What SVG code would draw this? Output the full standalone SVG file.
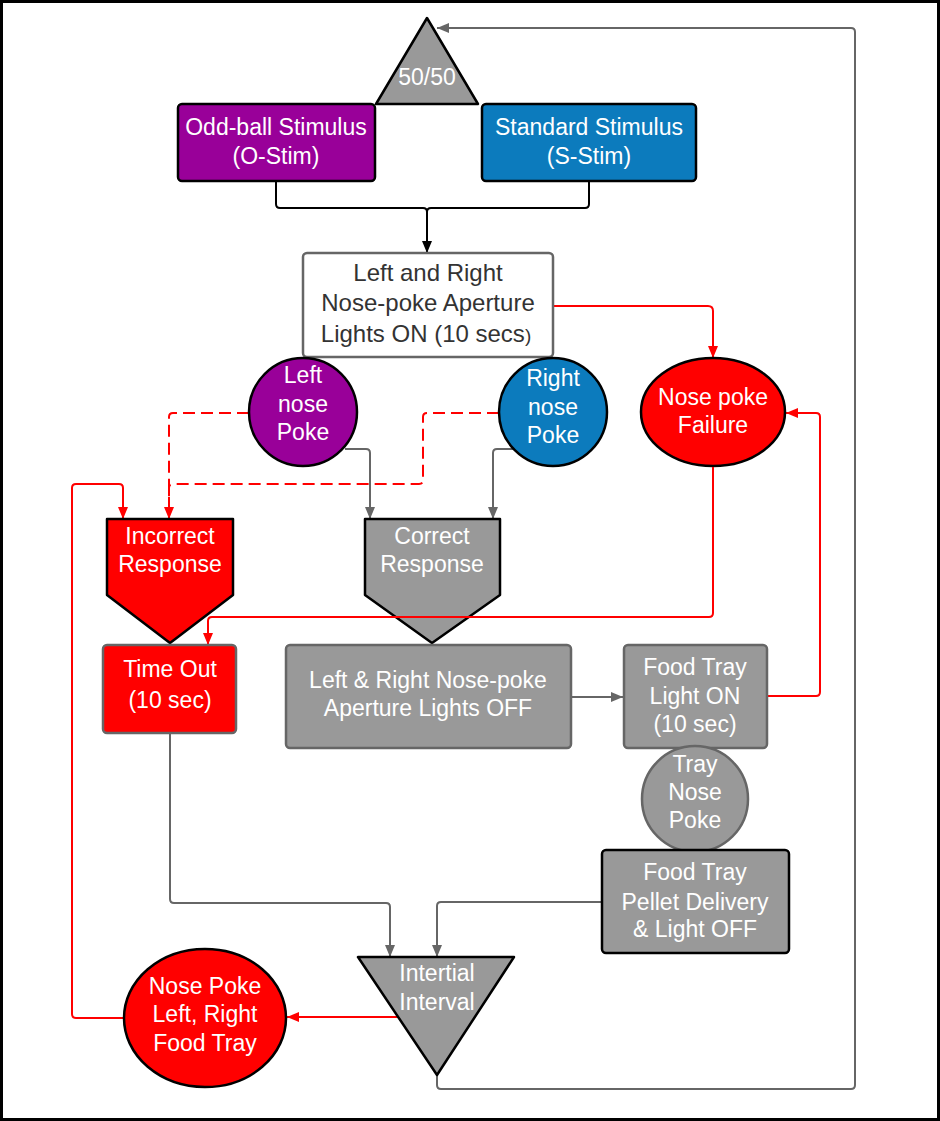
<svg xmlns="http://www.w3.org/2000/svg" width="940" height="1121" viewBox="0 0 940 1121">
<defs>
<style>
text{font-family:"Liberation Sans",Arial,sans-serif;font-size:23px;text-anchor:middle;fill:#ffffff}
.dk{fill:#333333;font-size:24px}
.c{fill:none;stroke-width:2}
.g{stroke:#666666}
.r{stroke:#ff0000}
.k{stroke:#000000}
.purple{fill:#990099;stroke:#000;stroke-width:2.5}
.blue{fill:#0c7bbd;stroke:#000;stroke-width:2.5}
.red{fill:#ff0000;stroke:#000;stroke-width:2.5}
.grayk{fill:#999999;stroke:#000;stroke-width:2.5}
.grayg{fill:#999999;stroke:#666666;stroke-width:2.5}
</style>
<marker id="ag" markerUnits="userSpaceOnUse" markerWidth="12" markerHeight="10" refX="12" refY="5" orient="auto"><path d="M0,0 L12,5 L0,10 z" fill="#666666"/></marker>
<marker id="ar" markerUnits="userSpaceOnUse" markerWidth="12" markerHeight="10" refX="12" refY="5" orient="auto"><path d="M0,0 L12,5 L0,10 z" fill="#ff0000"/></marker>
<marker id="ak" markerUnits="userSpaceOnUse" markerWidth="12" markerHeight="10" refX="12" refY="5" orient="auto"><path d="M0,0 L12,5 L0,10 z" fill="#000000"/></marker>
</defs>
<rect x="0" y="0" width="940" height="1121" fill="#ffffff"/>
<rect x="1.5" y="1.5" width="937" height="1118" fill="none" stroke="#000" stroke-width="3"/>

<g id="connectors">
<path class="c k" d="M276,181 V204 Q276,208 280,208 H423 Q427,208 427,212 V253" marker-end="url(#ak)"/>
<path class="c k" d="M589,181 V204 Q589,208 585,208 H431 Q427,208 427,212"/>
<path class="c r" d="M553,306 H708 Q713,306 713,311 V358" marker-end="url(#ar)"/>
<path class="c r" stroke-dasharray="12,6" d="M249,413 H173 Q169,413 169,417 V519" marker-end="url(#ar)"/>
<path class="c r" stroke-dasharray="12,6" d="M499,413 H427 Q423,413 423,417 V480 Q423,484 419,484 H173 Q169,484 169,488 V505"/>
<path class="c r" d="M124,1018 H76 Q72,1018 72,1014 V488 Q72,484 76,484 H119 Q123,484 123,488 V519" marker-end="url(#ar)"/>
<path class="c g" d="M345,449 H366 Q370,449 370,453 V519" marker-end="url(#ag)"/>
<path class="c g" d="M513,449 H497 Q493,449 493,453 V519" marker-end="url(#ag)"/>
<path class="c g" d="M571,697 H623" marker-end="url(#ag)"/>
<path class="c r" d="M767,696 H816 Q820,696 820,692 V417 Q820,413 816,413 H786" marker-end="url(#ar)"/>
<path class="c g" d="M170,733 V899 Q170,903 174,903 H386 Q390,903 390,907 V957" marker-end="url(#ag)"/>
<path class="c g" d="M602,902 H441 Q437,902 437,906 V957" marker-end="url(#ag)"/>
<path class="c r" d="M398,1017 H287" marker-end="url(#ar)"/>
<path class="c g" d="M437,1075 V1085 Q437,1089 441,1089 H851 Q855,1089 855,1085 V32 Q855,28 851,28 H437" marker-end="url(#ag)"/>
</g>

<g id="split">
<path class="grayk" d="M427,18 L478,104 L376,104 Z" stroke-linejoin="round"/>
<text x="427" y="85">50/50</text>
</g>
<g id="oddball">
<rect class="purple" x="178" y="104" width="197" height="77" rx="4"/>
<text x="276" y="135">Odd-ball Stimulus</text>
<text x="276" y="164">(O-Stim)</text>
</g>
<g id="standard">
<rect class="blue" x="482" y="104" width="214" height="77" rx="4"/>
<text x="589" y="135">Standard Stimulus</text>
<text x="589" y="164">(S-Stim)</text>
</g>
<g id="lightson">
<rect x="303" y="253" width="250" height="104" rx="4" fill="#ffffff" stroke="#666666" stroke-width="2.5"/>
<text class="dk" x="428" y="281">Left and Right</text>
<text class="dk" x="428" y="311">Nose-poke Aperture</text>
<text class="dk" x="426" y="342">Lights ON (10 secs<tspan font-size="19">)</tspan></text>
</g>
<g id="leftpoke">
<circle class="purple" cx="303" cy="412" r="54"/>
<text x="303" y="383">Left</text>
<text x="303" y="412">nose</text>
<text x="303" y="440">Poke</text>
</g>
<g id="rightpoke">
<circle class="blue" cx="553" cy="412" r="54"/>
<text x="553" y="386">Right</text>
<text x="553" y="415">nose</text>
<text x="553" y="443">Poke</text>
</g>
<g id="failure">
<ellipse class="red" cx="713" cy="412" rx="72" ry="54"/>
<text x="713" y="405">Nose poke</text>
<text x="713" y="433">Failure</text>
</g>
<g id="incorrect">
<path class="red" d="M107,519 H233 V595 L170,643 L107,595 Z" stroke-linejoin="round"/>
<text x="170" y="544">Incorrect</text>
<text x="170" y="572">Response</text>
</g>
<g id="correct">
<path class="grayk" d="M365,519 H500 V595 L432,643 L365,595 Z" stroke-linejoin="round"/>
<text x="432" y="544">Correct</text>
<text x="432" y="572">Response</text>
</g>
<g id="failpath">
<path class="c r" d="M713,467 V613 Q713,617 709,617 H212 Q208,617 208,621 V645" marker-end="url(#ar)"/>
</g>
<g id="timeout">
<rect x="103" y="645" width="133" height="88" rx="4" fill="#ff0000" stroke="#666666" stroke-width="2.5"/>
<text x="170" y="677" font-size="25">Time Out</text>
<text x="170" y="708" font-size="25">(10 sec)</text>
</g>
<g id="lightsoff">
<rect class="grayg" x="286" y="645" width="285" height="103" rx="4"/>
<text x="428" y="688">Left &amp; Right Nose-poke</text>
<text x="428" y="716">Aperture Lights OFF</text>
</g>
<g id="traylight">
<rect class="grayg" x="624" y="645" width="143" height="103" rx="4"/>
<text x="695" y="675">Food Tray</text>
<text x="695" y="704">Light ON</text>
<text x="695" y="732">(10 sec)</text>
</g>
<g id="traypoke">
<circle class="grayg" cx="695" cy="799" r="53"/>
<text x="695" y="772">Tray</text>
<text x="695" y="800">Nose</text>
<text x="695" y="828">Poke</text>
</g>
<g id="pellet">
<rect class="grayk" x="602" y="850" width="187" height="103" rx="4"/>
<text x="695" y="880">Food Tray</text>
<text x="695" y="910">Pellet Delivery</text>
<text x="695" y="937">&amp; Light OFF</text>
</g>
<g id="iti">
<path class="grayk" d="M358,957 H514 L437,1075 Z" stroke-linejoin="round"/>
<text x="437" y="981">Intertial</text>
<text x="437" y="1010">Interval</text>
</g>
<g id="nosepokeall">
<ellipse class="red" cx="205" cy="1018" rx="81" ry="69"/>
<text x="205" y="994">Nose Poke</text>
<text x="205" y="1022">Left, Right</text>
<text x="205" y="1051">Food Tray</text>
</g>
</svg>
